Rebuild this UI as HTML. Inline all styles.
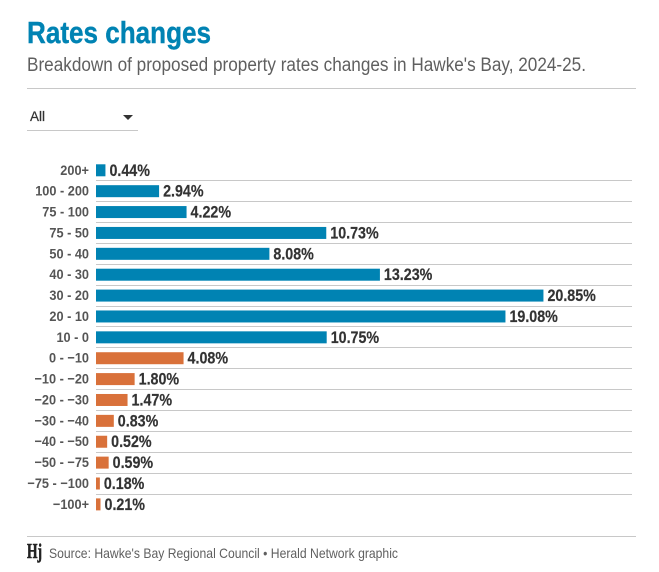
<!DOCTYPE html>
<html lang="en">
<head>
<meta charset="utf-8">
<title>Rates changes</title>
<style>
html,body{margin:0;padding:0;background:#fff;width:659px;height:572px;overflow:hidden}
svg{display:block;font-family:"Liberation Sans",sans-serif}
</style>
</head>
<body>
<svg id="chart" width="659" height="572" viewBox="0 0 659 572" xmlns="http://www.w3.org/2000/svg">
  <text x="27" y="43" font-size="31" font-weight="700" fill="#0083b3" stroke="#0083b3" stroke-width="0.4" textLength="184" lengthAdjust="spacingAndGlyphs">Rates changes</text>
  <text x="27" y="71" font-size="19" fill="#5f5f5f" textLength="559" lengthAdjust="spacingAndGlyphs">Breakdown of proposed property rates changes in Hawke's Bay, 2024-25.</text>
  <line x1="27" x2="636" y1="88.5" y2="88.5" stroke="#c8c8c8"/>
  <g>
    <text x="30" y="121" font-size="14" font-weight="400" fill="#333" stroke="#333" stroke-width="0.25" textLength="15" lengthAdjust="spacingAndGlyphs">All</text>
    <polygon points="123,115 133,115 128,120" fill="#333"/>
    <line x1="27" x2="138" y1="130.5" y2="130.5" stroke="#c8c8c8"/>
  </g>
  <g id="plot"></g>
  <line x1="27" x2="636" y1="536.5" y2="536.5" stroke="#c8c8c8"/>
  <text x="27" y="558" font-family="'Liberation Serif',serif" font-size="21" font-weight="700" fill="#222" stroke="#222" stroke-width="0.6" textLength="15" lengthAdjust="spacingAndGlyphs">Hj</text>
  <text x="49" y="558" font-size="14" fill="#5f5f5f" textLength="349" lengthAdjust="spacingAndGlyphs">Source: Hawke's Bay Regional Council • Herald Network graphic</text>
</svg>
<script>
const categories = ["200+","100 - 200","75 - 100","75 - 50","50 - 40","40 - 30","30 - 20","20 - 10","10 - 0","0 - −10","−10 - −20","−20 - −30","−30 - −40","−40 - −50","−50 - −75","−75 - −100","−100+"];
const values = [0.44,2.94,4.22,10.73,8.08,13.23,20.85,19.08,10.75,4.08,1.80,1.47,0.83,0.52,0.59,0.18,0.21];
const directions = ["up","up","up","up","up","up","up","up","up","down","down","down","down","down","down","down","down"];

const NS = "http://www.w3.org/2000/svg";
const plot = document.getElementById("plot");
const x0 = 96, pxPerUnit = 21.46, top0 = 170.3, pitch = 20.88, barH = 12;
const xScale = v => x0 + v * pxPerUnit;
const yScale = i => top0 + i * pitch;
const fillFor = d => d === "up" ? "#0083b3" : "#d9713a";

function condensedText(x, y, str, size, weight, fill, anchor, sx) {
  const t = document.createElementNS(NS, "text");
  t.setAttribute("transform", "translate(" + x + "," + y + ") scale(" + sx + ",1)");
  t.setAttribute("font-size", size);
  t.setAttribute("font-weight", weight);
  t.setAttribute("fill", fill);
  t.setAttribute("text-anchor", anchor);
  t.textContent = str;
  return t;
}

categories.forEach(function (cat, i) {
  const y = yScale(i);
  if (i < categories.length - 1) {
    const rule = document.createElementNS(NS, "line");
    
    
    rule.setAttribute("x1", x0);
    rule.setAttribute("x2", 632);
    rule.setAttribute("y1", Math.round(y + 10) + 0.5);
    rule.setAttribute("y2", Math.round(y + 10) + 0.5);
    rule.setAttribute("stroke", "#c8c8c8");
    plot.appendChild(rule);
  }
  const label = condensedText(89, y + 4.5, cat, 14, 700, "#555", "end", 0.91);
  
  
  plot.appendChild(label);

  const bar = document.createElementNS(NS, "rect");
  
  
  bar.setAttribute("x", x0);
  bar.setAttribute("y", y - barH / 2);
  bar.setAttribute("width", xScale(values[i]) - x0);
  bar.setAttribute("height", barH);
  bar.setAttribute("fill", fillFor(directions[i]));
  plot.appendChild(bar);

  const val = condensedText(xScale(values[i]) + 4, y + 5.5, values[i].toFixed(2) + "%", 17, 700, "#333", "start", 0.84);
  val.setAttribute("stroke", "#333");
  val.setAttribute("stroke-width", "0.2");
  
  
  plot.appendChild(val);
});
</script>
</body>
</html>
